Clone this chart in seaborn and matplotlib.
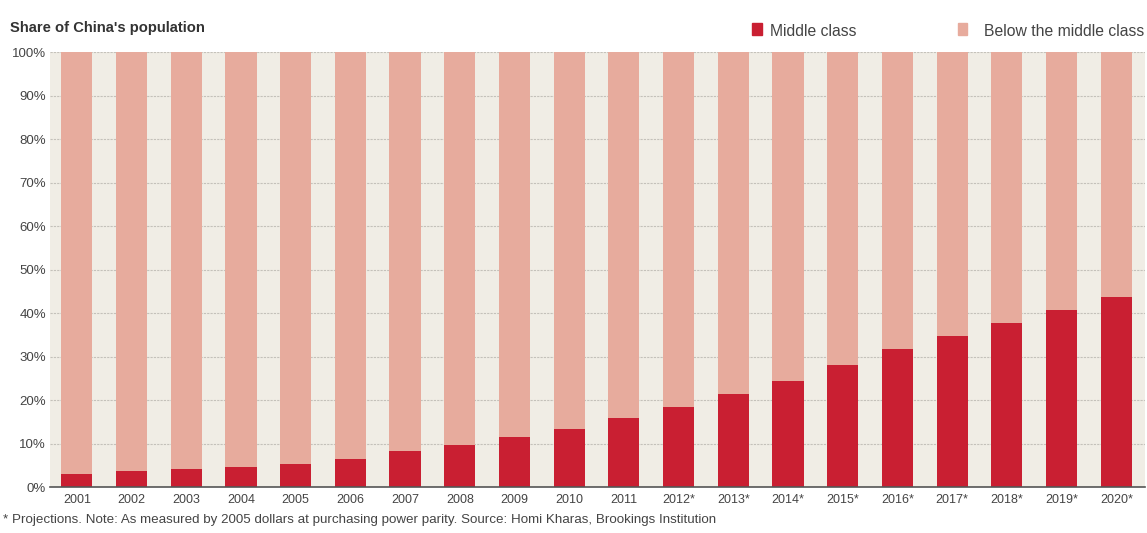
import matplotlib
matplotlib.use("Agg")
import matplotlib.pyplot as plt
import seaborn as sns
import pandas as pd
from matplotlib.patches import Rectangle

years = ["2001", "2002", "2003", "2004", "2005", "2006", "2007", "2008", "2009", "2010",
         "2011", "2012*", "2013*", "2014*", "2015*", "2016*", "2017*", "2018*", "2019*", "2020*"]
middle_class = [2.9, 3.6, 4.2, 4.7, 5.4, 6.5, 8.2, 9.6, 11.4, 13.4,
                15.8, 18.5, 21.3, 24.4, 28.0, 31.7, 34.6, 37.7, 40.7, 43.7]
below_middle = [100 - v for v in middle_class]

df = pd.DataFrame({"year": years, "middle": middle_class, "below": below_middle})

RED = "#c91f32"
PINK = "#e7ab9d"
BG = "#f0ede5"

sns.set_theme(style="white")
plt.rcParams['font.family'] = ['Liberation Sans', 'DejaVu Sans']

fig = plt.figure(figsize=(11.47, 5.33), dpi=100)
ax = fig.add_axes([0.0436, 0.0863, 0.9544, 0.8161])
ax.set_facecolor(BG)

# stacked bars: total (pink) then middle class (red) on top
sns.barplot(data=df, x="year", y=[100] * len(years), color=PINK, width=0.57,
            saturation=1, ax=ax, zorder=2, linewidth=0)
sns.barplot(data=df, x="year", y="middle", color=RED, width=0.57,
            saturation=1, ax=ax, zorder=3, linewidth=0)

ax.set_ylim(0, 100)
ax.set_xlim(-0.49, 19.52)
ax.set_yticks(range(0, 101, 10))
ax.set_yticklabels([f"{v}%" for v in range(0, 101, 10)])
ax.yaxis.grid(True, color="#c4c1ba", linestyle=(0, (2, 1)), linewidth=0.8)
ax.set_axisbelow(True)
for g in ax.get_ygridlines():
    g.set_zorder(1)
ax.set_xlabel("")
ax.set_ylabel("")
for s in ["top", "right", "left"]:
    ax.spines[s].set_visible(False)
ax.spines["bottom"].set_color("#555555")
ax.spines["bottom"].set_linewidth(1.2)
ax.spines["bottom"].set_zorder(5)
ax.tick_params(axis="x", length=0, labelsize=9.0, colors="#444444", pad=5)
ax.tick_params(axis="y", length=0, labelsize=9.5, colors="#444444", pad=3)

fig.text(0.009, 0.948, "Share of China's population", fontsize=10.6, fontweight="bold",
         color="#333333", va="center", ha="left")

# legend
fig.patches.append(Rectangle((0.6555, 0.935), 0.0085, 0.022, transform=fig.transFigure,
                             color=RED, figure=fig))
fig.text(0.671, 0.94, "Middle class", fontsize=11.3, color="#444444", va="center")
fig.patches.append(Rectangle((0.835, 0.935), 0.0085, 0.022, transform=fig.transFigure,
                             color=PINK, figure=fig))
fig.text(0.858, 0.94, "Below the middle class", fontsize=11.3, color="#444444", va="center")

fig.text(0.003, 0.025,
         "* Projections. Note: As measured by 2005 dollars at purchasing power parity. Source: Homi Kharas, Brookings Institution",
         fontsize=9.6, color="#444444", va="center", ha="left")

fig.savefig("out.png", dpi=100, facecolor="white")
